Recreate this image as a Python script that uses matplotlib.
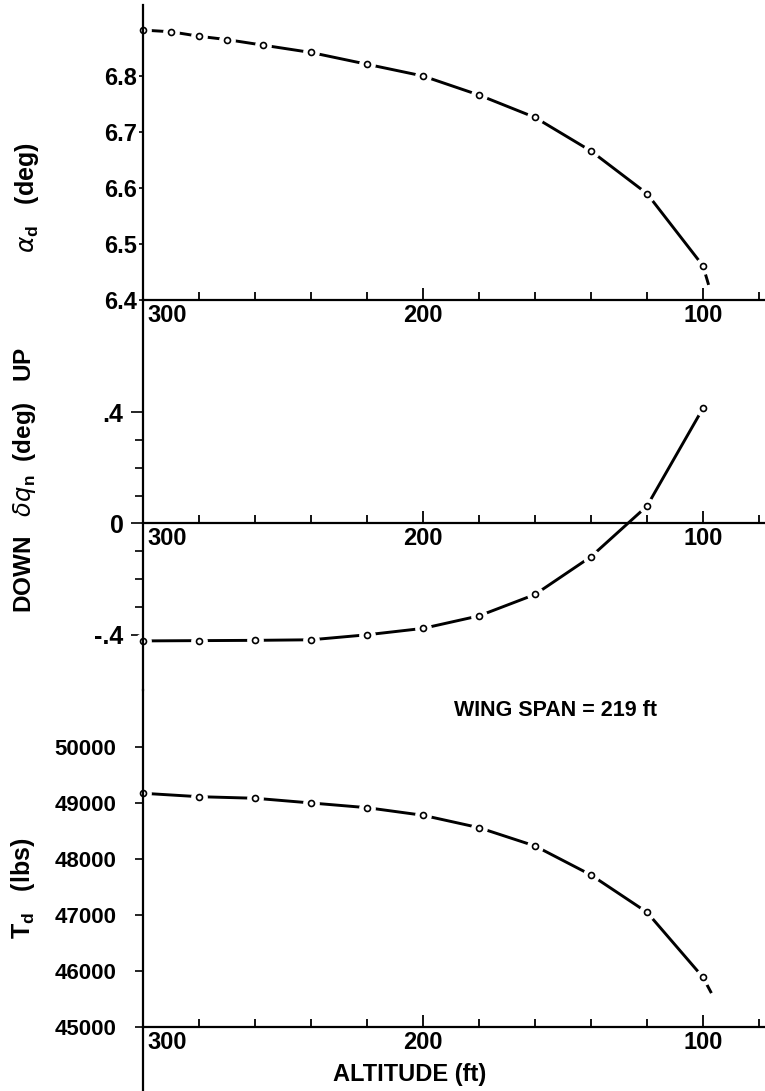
import matplotlib
matplotlib.use("Agg")
import matplotlib.pyplot as plt
from matplotlib.ticker import FixedLocator, MultipleLocator
from matplotlib.transforms import ScaledTranslation

# altitude (ft) of the plotted points
altitude_alpha = [300, 290, 280, 270, 257, 240, 220, 200, 180, 160, 140, 120, 100]
alpha_d = [6.882, 6.879, 6.871, 6.865, 6.855, 6.842, 6.821, 6.800, 6.766, 6.726, 6.666, 6.590, 6.461]
alpha_tail = (98, 6.427)

altitude = [300, 280, 260, 240, 220, 200, 180, 160, 140, 120, 100]
delta_qn = [-0.423, -0.422, -0.421, -0.419, -0.401, -0.378, -0.333, -0.256, -0.120, 0.062, 0.414]
t_d = [49168, 49107, 49079, 48995, 48911, 48775, 48554, 48227, 47709, 47043, 45882]
td_tail = (97, 45600)

# ticks
alt_ticks = [300, 200, 100]
alt_labels = ["300", "200", "100"]
alpha_ticks = [6.4, 6.5, 6.6, 6.7, 6.8]
alpha_labels = ["6.4", "6.5", "6.6", "6.7", "6.8"]
delta_ticks = [-0.4, 0.0, 0.4]
delta_labels = ["-.4", "0", ".4"]
delta_minor = [-0.3, -0.2, -0.1, 0.1, 0.2, 0.3]
td_ticks = [45000, 46000, 47000, 48000, 49000, 50000]
td_labels = ["45000", "46000", "47000", "48000", "49000", "50000"]

FONT = ["Liberation Sans", "DejaVu Sans"]
plt.rcParams["font.family"] = FONT
plt.rcParams["mathtext.fontset"] = "custom"
plt.rcParams["mathtext.rm"] = "Liberation Sans:bold"
plt.rcParams["mathtext.it"] = "DejaVu Sans:italic"


def draw_curve(ax, xs, ys, tail=None):
    lx, ly = list(xs), list(ys)
    if tail is not None:
        lx.append(tail[0])
        ly.append(tail[1])
    ax.plot(lx, ly, color="black", lw=2.1, solid_capstyle="butt", zorder=2)
    # white halo gives the broken line around each point
    ax.plot(xs, ys, ls="none", marker="o", ms=11, mfc="white", mec="white",
            zorder=2.1, clip_on=False)
    ax.plot(xs, ys, ls="none", marker="o", ms=4.3, mfc="white", mec="black",
            mew=1.2, zorder=2.2, clip_on=False)


def style_axes(ax, base, fig):
    for s in ["top", "right"]:
        ax.spines[s].set_visible(False)
    ax.spines["left"].set_linewidth(1.6)
    ax.spines["bottom"].set_linewidth(1.6)
    ax.spines["bottom"].set_position(("data", base))
    ax.set_xlim(300, 77.86)
    ax.set_xticks(alt_ticks, labels=alt_labels)
    ax.xaxis.set_minor_locator(MultipleLocator(20))
    ax.tick_params(axis="x", which="both", direction="in", width=1.3, pad=3,
                   labelsize=17)
    ax.tick_params(axis="x", which="major", length=9)
    ax.tick_params(axis="x", which="minor", length=6)
    for lbl in ax.get_xticklabels():
        lbl.set_fontweight("bold")
    first = ax.get_xticklabels()[0]
    first.set_horizontalalignment("left")
    first.set_transform(first.get_transform() + ScaledTranslation(3 / 72, 0, fig.dpi_scale_trans))
    ax.patch.set_alpha(0)


def main() -> None:
    fig = plt.figure(figsize=(7.65, 10.91), dpi=100)
    left = 143 / 765
    width = 1 - left
    ax1 = fig.add_axes([left, 1 - 300 / 1091, width, 295 / 1091])
    ax2 = fig.add_axes([left, 1 - 690 / 1091, width, 390 / 1091])
    ax3 = fig.add_axes([left, 0.0, width, 401 / 1091])

    # alpha_d
    draw_curve(ax1, altitude_alpha, alpha_d, alpha_tail)
    ax1.set_ylim(6.4, 6.9268)
    ax1.set_yticks(alpha_ticks, labels=alpha_labels)
    ax1.tick_params(axis="y", direction="out", length=3, width=1.2, pad=1, labelsize=17)
    style_axes(ax1, 6.4, fig)

    # delta q_n
    draw_curve(ax2, altitude, delta_qn)
    ax2.set_ylim(-0.5996, 0.8032)
    ax2.set_yticks(delta_ticks, labels=delta_labels)
    ax2.yaxis.set_minor_locator(FixedLocator(delta_minor))
    ax2.tick_params(axis="y", which="major", direction="out", length=9, width=1.2,
                    pad=5, labelsize=18)
    ax2.tick_params(axis="y", which="minor", direction="out", length=6, width=1.2)
    style_axes(ax2, 0.0, fig)

    # T_d
    draw_curve(ax3, altitude, t_d, td_tail)
    ax3.set_ylim(43852, 51012)
    ax3.set_yticks(td_ticks, labels=td_labels)
    ax3.tick_params(axis="y", direction="out", length=6, width=1.2, pad=13, labelsize=16)
    style_axes(ax3, 45000, fig)

    for ax in (ax1, ax2, ax3):
        for lbl in ax.get_yticklabels():
            lbl.set_fontweight("bold")

    # labels
    fig.text(27 / 765, 1 - 198 / 1091, r"$\alpha_{\rm d}$   (deg)", rotation=90,
             ha="center", va="center", fontsize=18, fontweight="bold")
    fig.text(25 / 765, 1 - 480 / 1091, r"DOWN   $\delta q_{\rm n}$  (deg)   UP",
             rotation=90, ha="center", va="center", fontsize=17.5, fontweight="bold")
    fig.text(23 / 765, 1 - 888 / 1091, r"T$_{\rm d}$   (lbs)", rotation=90,
             ha="center", va="center", fontsize=18, fontweight="bold")
    fig.text(556 / 765, 1 - 710 / 1091, "WING SPAN = 219 ft", ha="center", va="center",
             fontsize=15.5, fontweight="bold")
    fig.text(410 / 765, 1 - 1074 / 1091, "ALTITUDE (ft)", ha="center", va="center",
             fontsize=17, fontweight="bold")

    fig.savefig("out.png", dpi=100)


if __name__ == "__main__":
    main()
